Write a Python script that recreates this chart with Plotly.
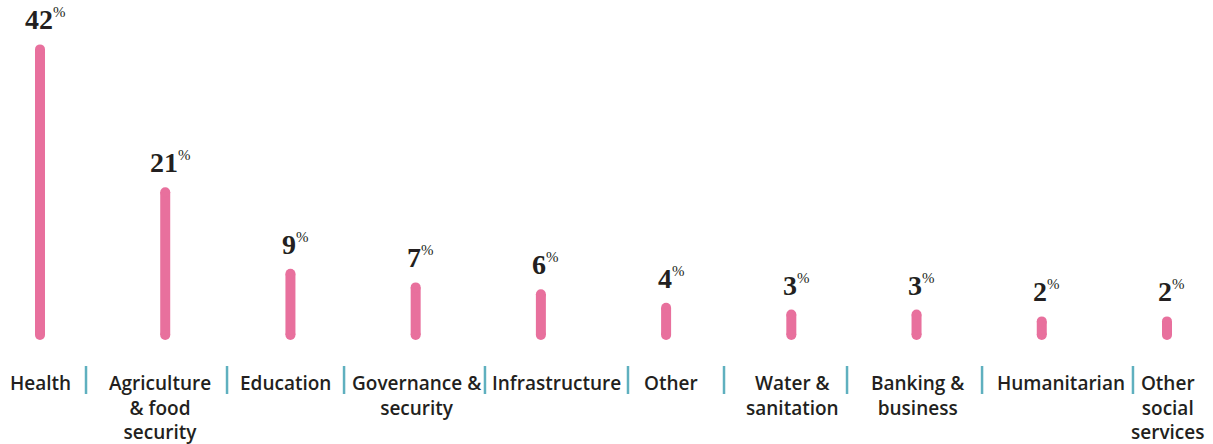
import plotly.graph_objects as go

categories = ["Health", "Agriculture<br>& food<br>security", "Education", "Governance &<br>security",
              "Infrastructure", "Other", "Water &<br>sanitation", "Banking &<br>business",
              "Humanitarian", "Other<br>social<br>services"]
values = [42, 21, 9, 7, 6, 4, 3, 3, 2, 2]

# styling / layout tweaks (pixels)
label_shift = [0, -5, -5, 1, 16, 5, 1, 1, 19, 1]
sep_shift = [-16.6, -0.8, -9, 6.7, 24.5, -4.7, -6.9, 2.9, 28.6]

PINK = "#e8709d"
TEAL = "#5fb0bf"
DARK = "#231f20"
W, H = 1213, 444
px_per_cat = 125.22
x0 = -40 / px_per_cat
x1 = x0 + W / px_per_cat
px_per_unit = 6.8
y_top = 335 / px_per_unit
y_bot = -(H - 335) / px_per_unit

fig = go.Figure()
for i, v in enumerate(values):
    fig.add_trace(go.Scatter(
        x=[i, i], y=[0, v], mode="lines+markers",
        line=dict(color=PINK, width=10),
        marker=dict(color=PINK, size=10, symbol="circle", line=dict(width=0)),
        hoverinfo="skip", showlegend=False))
    fig.add_annotation(
        x=i, y=v, xref="x", yref="y", yanchor="bottom", yshift=12, xshift=5,
        text=f"<b>{v}</b><sup><span style='font-size:15px'>%</span></sup>",
        showarrow=False,
        font=dict(family="Liberation Serif", size=28, color=DARK))
    fig.add_annotation(
        x=i, y=1 - 368 / H, xref="x", yref="paper", yanchor="top", xshift=label_shift[i],
        text=categories[i], showarrow=False, align="center",
        font=dict(family="Open Sans", size=19, color=DARK, weight=600))

for j, s in enumerate(sep_shift):
    xs = j + 0.5 + s / px_per_cat
    fig.add_shape(type="line", xref="x", yref="paper",
                  x0=xs, x1=xs, y0=1 - 366 / H, y1=1 - 394 / H,
                  line=dict(color=TEAL, width=2.5))

fig.update_layout(
    width=W, height=H, margin=dict(l=0, r=0, t=0, b=0),
    paper_bgcolor="white", plot_bgcolor="white",
    hovermode=False,
    xaxis=dict(range=[x0, x1], visible=False, fixedrange=True),
    yaxis=dict(range=[y_bot, y_top], visible=False, fixedrange=True),
)
fig.write_html("out.html", config={"displayModeBar": False, "staticPlot": True},
               post_script="document.body.style.margin='0';document.body.style.padding='0';")
